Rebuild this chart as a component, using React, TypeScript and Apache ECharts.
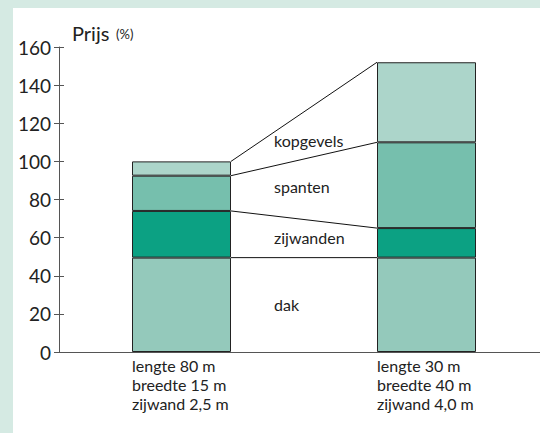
import React, { useEffect, useRef } from "react";
import * as echarts from "echarts";

const categories = ["klein", "groot"];
const categoryLabels = [
  "lengte 80 m\nbreedte 15 m\nzijwand 2,5 m",
  "lengte 30 m\nbreedte 40 m\nzijwand 4,0 m",
];
const segmentNames = ["dak", "zijwanden", "spanten", "kopgevels"];
const dak = [49.5, 49.5];
const zijwanden = [24.5, 15.5];
const spanten = [18.5, 45];
const kopgevels = [7.5, 42];
const segmentLabelY = [25, 60.3, 86.7, 111];
const segmentColors = ["#94c9bb", "#0ca183", "#76bfad", "#acd5ca"];

const FONT = "Lato, 'Open Sans', sans-serif";
const BAR_W = 99;

export default function App() {
  const ref = useRef<HTMLDivElement>(null);
  useEffect(() => {
    document.body.style.margin = "0";
    const chart = echarts.init(ref.current!, null, { renderer: "svg" });
    const segs = [dak, zijwanden, spanten, kopgevels];
    const bounds: number[][] = [];
    let c0 = 0,
      c1 = 0;
    segs.forEach((s) => {
      c0 += s[0];
      c1 += s[1];
      bounds.push([c0, c1]);
    });

    chart.setOption({
      animation: false,
      backgroundColor: "#d5eae3",
      graphic: [
        {
          type: "rect",
          z: -100,
          shape: { x: 13, y: 8, width: 600, height: 500 },
          style: { fill: "#ffffff" },
        },
        {
          type: "text",
          x: 72,
          y: 33,
          style: {
            text: "Prijs",
            verticalAlign: "middle",
            fontSize: 20,
            fontFamily: FONT,
            fill: "#222",
          },
        },
        {
          type: "text",
          x: 116,
          y: 34,
          style: {
            text: "(%)",
            verticalAlign: "middle",
            fontSize: 13,
            fontFamily: FONT,
            fill: "#222",
          },
        },
      ],
      grid: { left: 59, top: 47, bottom: 81, width: 490, outerBoundsMode: "none" },
      xAxis: {
        type: "category",
        data: categories,
        axisLine: { lineStyle: { color: "#555", width: 1 } },
        axisTick: { inside: true, length: 6, lineStyle: { color: "#555" } },
        axisLabel: { show: false },
      },
      yAxis: [
        {
          type: "value",
          min: 0,
          max: 160,
          interval: 20,
          axisLine: { show: true, lineStyle: { color: "#555", width: 1 } },
          axisTick: { show: true, length: 5, lineStyle: { color: "#555" } },
          axisLabel: {
            margin: 8,
            fontSize: 19,
            fontFamily: FONT,
            color: "#222",
          },
          splitLine: { show: false },
        },
        {
          type: "value",
          position: "left",
          min: 0,
          max: 160,
          interval: 20,
          axisLine: { show: false },
          axisTick: { show: true, inside: true, length: 5, lineStyle: { color: "#555" } },
          axisLabel: { show: false },
          splitLine: { show: false },
        },
      ],
      series: [
        ...segs.map((s, i) => ({
          type: "bar",
          name: segmentNames[i],
          stack: "total",
          barWidth: BAR_W,
          data: s,
          itemStyle: {
            color: segmentColors[i],
            borderColor: "#222",
            borderWidth: 1,
          },
        })),
        {
          type: "custom",
          clip: false,
          data: bounds.map((b) => [0, b[0], b[1]]),
          encode: { x: 0, y: 1 },
          renderItem: (params: any, api: any) => {
            const b = bounds[params.dataIndex];
            const p1 = api.coord([0, b[0]]);
            const p2 = api.coord([1, b[1]]);
            return {
              type: "line",
              shape: { x1: p1[0] + BAR_W / 2, y1: p1[1], x2: p2[0] - BAR_W / 2, y2: p2[1] },
              style: { stroke: "#111", lineWidth: 1 },
            };
          },
        },
        {
          type: "custom",
          clip: false,
          data: segmentLabelY.map((v) => [0, v]),
          encode: { x: 0, y: 1 },
          renderItem: (params: any, api: any) => {
            const v = segmentLabelY[params.dataIndex];
            const p = api.coord([0, v]);
            const band = api.size([1, 0])[0];
            return {
              type: "text",
              style: {
                text: segmentNames[params.dataIndex],
                x: p[0] + band / 2 - 30,
                y: p[1],
                align: "left",
                verticalAlign: "middle",
                fontSize: 16,
                fontFamily: FONT,
                fill: "#222",
              },
            };
          },
        },
        {
          type: "custom",
          clip: false,
          data: categories.map((_, i) => [i, 0]),
          encode: { x: 0, y: 1 },
          renderItem: (params: any, api: any) => {
            const p = api.coord([params.dataIndex, 0]);
            return {
              type: "text",
              style: {
                text: categoryLabels[params.dataIndex],
                x: p[0] - BAR_W / 2,
                y: p[1] + 4,
                align: "left",
                verticalAlign: "top",
                fontSize: 16,
                lineHeight: 19,
                fontFamily: FONT,
                fill: "#222",
              },
            };
          },
        },
      ],
    });
    return () => chart.dispose();
  }, []);
  return (
    <div
      ref={ref}
      style={{ position: "absolute", left: 0, top: 0, width: 540, height: 433 }}
    />
  );
}
